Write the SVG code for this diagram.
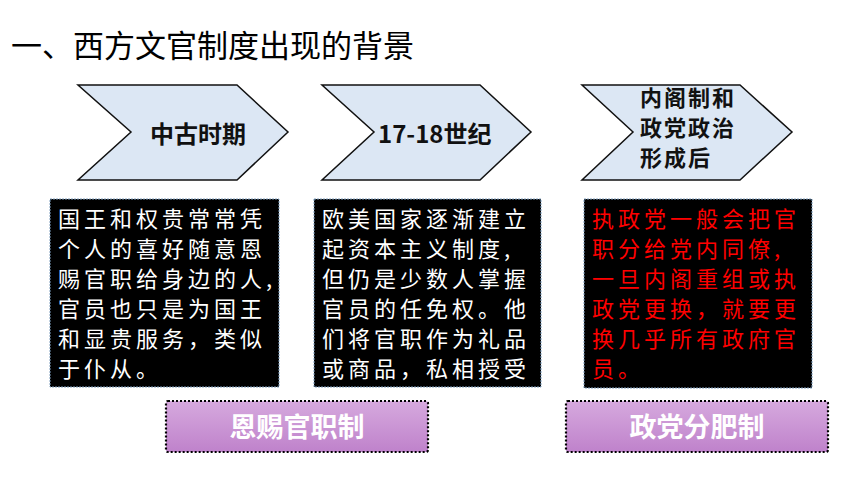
<svg xmlns="http://www.w3.org/2000/svg" width="860" height="484" viewBox="0 0 860 484">
<defs>
<linearGradient id="pg" x1="0" y1="0" x2="0" y2="1">
<stop offset="0" stop-color="#d6a9de"/>
<stop offset="1" stop-color="#bf82cb"/>
</linearGradient>
<style>
.chev{fill:#dce7f4;stroke:#111;stroke-width:1.5;stroke-linejoin:miter}
.ct{font-family:"Noto Sans CJK SC","Noto Sans",sans-serif;font-weight:bold;font-size:24px;fill:#111}
.ct3{font-family:"Noto Sans CJK SC","Noto Sans",sans-serif;font-weight:bold;font-size:22px;fill:#111;letter-spacing:2px}
.box{fill:#000;stroke:#7f9fbf;stroke-width:1;stroke-dasharray:2 1}
.bt{font-family:"Noto Sans CJK SC",sans-serif;font-size:22px;letter-spacing:4px}
.w{fill:#fff}
.r{fill:#ff0000}
.lab{fill:url(#pg);stroke:#000;stroke-width:2.2;stroke-dasharray:2 2}
.lt{font-family:"Noto Sans CJK SC",sans-serif;font-weight:bold;font-size:27px;fill:#fff;text-anchor:middle}
.title{font-family:"Noto Sans CJK SC",sans-serif;font-size:31px;fill:#000}
</style>
</defs>
<rect width="860" height="484" fill="#fff"/>
<text class="title" x="11" y="57">一、西方文官制度出现的背景</text>

<g id="chev1">
<polygon class="chev" points="78,85 237,85 288,132 237,180 78,180 131,132"/>
<text class="ct" x="150" y="143">中古时期</text>
</g>
<g id="chev2">
<polygon class="chev" points="322,85 480,85 531,132 480,180 322,180 374,132"/>
<text class="ct" x="378" y="143">17-18世纪</text>
</g>
<g id="chev3">
<polygon class="chev" points="582,85 740,85 792,132 740,180 582,180 633,132"/>
<text class="ct3"><tspan x="640" y="106">内阁制和</tspan><tspan x="640" y="136">政党政治</tspan><tspan x="640" y="166">形成后</tspan></text>
</g>

<g id="box1">
<rect class="box" x="50" y="199" width="229" height="188"/>
<text class="bt w" x="58" y="227">国王和权贵常常凭</text>
<text class="bt w" x="58" y="257">个人的喜好随意恩</text>
<text class="bt w" x="58" y="287">赐官职给身边的人,</text>
<text class="bt w" x="58" y="317">官员也只是为国王</text>
<text class="bt w" x="58" y="347">和显贵服务，类似</text>
<text class="bt w" x="58" y="377">于仆从。</text>
</g>
<g id="box2">
<rect class="box" x="314" y="199" width="227" height="188"/>
<text class="bt w" x="322" y="227">欧美国家逐渐建立</text>
<text class="bt w" x="322" y="257">起资本主义制度,</text>
<text class="bt w" x="322" y="287">但仍是少数人掌握</text>
<text class="bt w" x="322" y="317">官员的任免权。他</text>
<text class="bt w" x="322" y="347">们将官职作为礼品</text>
<text class="bt w" x="322" y="377">或商品，私相授受</text>
</g>
<g id="box3">
<rect class="box" x="584" y="199" width="228" height="189"/>
<text class="bt r" x="592" y="227">执政党一般会把官</text>
<text class="bt r" x="592" y="257">职分给党内同僚,</text>
<text class="bt r" x="592" y="287">一旦内阁重组或执</text>
<text class="bt r" x="592" y="317">政党更换，就要更</text>
<text class="bt r" x="592" y="347">换几乎所有政府官</text>
<text class="bt r" x="592" y="377">员。</text>
</g>

<g id="label1">
<rect class="lab" x="166" y="401" width="262" height="51" rx="2"/>
<text class="lt" x="297" y="437">恩赐官职制</text>
</g>
<g id="label2">
<rect class="lab" x="566" y="401" width="262" height="51" rx="2"/>
<text class="lt" x="697" y="437">政党分肥制</text>
</g>
<g id="connectors"></g>
</svg>
